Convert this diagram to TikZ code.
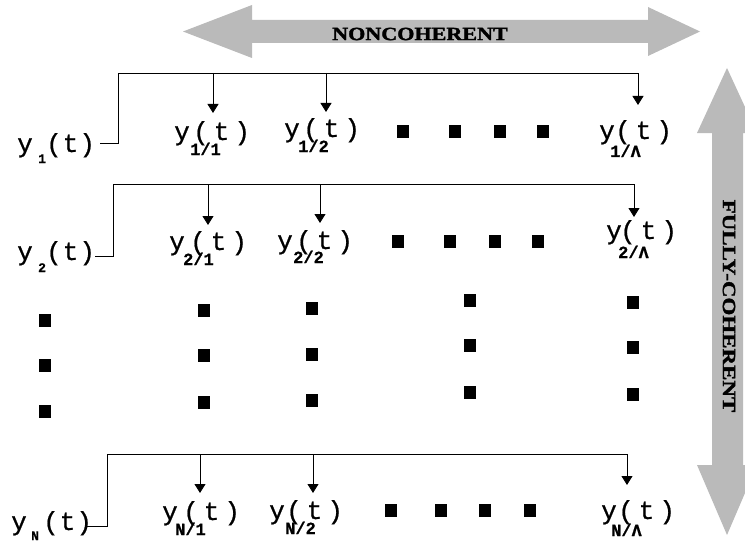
\documentclass[tikz,border=0pt]{standalone}
\usepackage{fontspec}
\newfontfamily\sigfont[FakeBold=0.8]{Liberation Mono}
\newfontfamily\bandfont[FakeBold=1.5]{Liberation Serif}
\usetikzlibrary{arrows.meta}

% (t) with widened letter pitch
\newcommand{\tpar}[1]{(\hspace{#1}t\hspace{#1})}
% \sig{sub}{sub x}{paren x}{drop}{paren spacing}{sub size}
\newcommand{\sig}[6]{\rlap{y}\rlap{\hspace{#2}\raisebox{-#4}{\fontsize{#6}{#6}\selectfont\bfseries #1}}\hspace{#3}\tpar{#5}}

\begin{document}
\begin{tikzpicture}[x=1pt,y=-1pt,
  wire/.style={line width=0.9pt},
  feed/.style={wire,-{Triangle[width=11pt,length=9pt]}},
  dot/.style={fill=black,minimum width=12pt,minimum height=13pt,inner sep=0pt},
  sig/.style={inner sep=0pt,anchor=base west,font=\sigfont\fontsize{26}{26}\selectfont},
  band/.style={fill=black!27,draw=none},
  bandtext/.style={inner sep=0pt,font=\bandfont\bfseries\fontsize{17}{17}\selectfont}]
\useasboundingbox (0,0) rectangle (745,543);
\clip (0,0) rectangle (745,543);

% double-headed bands
\fill[band] (183,31.5) -- (252,5) -- (252,20) -- (648,20) -- (648,7) -- (700,31.5)
  -- (648,56) -- (648,43) -- (252,43) -- (252,58) -- cycle;
\fill[band] (727,68) -- (757,133) -- (743,133) -- (743,465) -- (757,465) -- (727,535)
  -- (697,465) -- (712,465) -- (712,133) -- (697,133) -- cycle;
\node[bandtext] (nc) at (420,34) {\scalebox{1.3}[1.1]{NONCOHERENT}};
\node[bandtext,rotate=-90] (fc) at (729,306) {\scalebox{1.35}[1.1]{FULLY-COHERENT}};

% signals
\node[sig] (y1) at (17,152) {\sig{1}{21pt}{29pt}{11pt}{1pt}{13}};
\node[sig] (y11) at (174,140) {\sig{1/1}{16pt}{19pt}{15pt}{5pt}{17}};
\node[sig] (y12) at (284,137) {\sig{1/2}{14pt}{19pt}{15pt}{5pt}{17}};
\node[sig] (y1L) at (599,139) {\sig{1/\symbol{"039B}}{11pt}{16pt}{18pt}{5pt}{17}};

\node[sig] (y2) at (17,260) {\sig{2}{21pt}{29pt}{12pt}{1pt}{13}};
\node[sig] (y21) at (169,250) {\sig{2/1}{14pt}{21pt}{15pt}{5pt}{17}};
\node[sig] (y22) at (277,249) {\sig{2/2}{16pt}{19pt}{14pt}{5pt}{17}};
\node[sig] (y2L) at (606,239) {\sig{2/\symbol{"039B}}{12pt}{14pt}{19pt}{5pt}{17}};

\node[sig] (yN) at (11,530) {\sig{N}{20pt}{32pt}{10pt}{1pt}{13}};
\node[sig] (yN1) at (162,520) {\sig{N/1}{13pt}{21pt}{15pt}{5pt}{17}};
\node[sig] (yN2) at (269,519) {\sig{N/2}{16pt}{17pt}{15pt}{5pt}{17}};
\node[sig] (yNL) at (601,519) {\sig{N/\symbol{"039B}}{10pt}{17pt}{17pt}{5pt}{17}};

% row 1 distribution
\coordinate (a1) at (100,143);
\coordinate (b1) at (118,73);
\coordinate (c11) at (213,73);  \coordinate (t11) at (213,113);
\coordinate (c12) at (326,73);  \coordinate (t12) at (326,112);
\coordinate (t1L) at (638,105);
\draw[feed] (a1) -| (b1) -| (t1L);
\draw[feed] (c11) -- (t11);
\draw[feed] (c12) -- (t12);

% row 2 distribution
\coordinate (a2) at (95,256);
\coordinate (b2) at (113,184);
\coordinate (c21) at (208,184);  \coordinate (t21) at (208,225);
\coordinate (c22) at (320,184);  \coordinate (t22) at (320,223);
\coordinate (t2L) at (634,217);
\draw[feed] (a2) -| (b2) -| (t2L);
\draw[feed] (c21) -- (t21);
\draw[feed] (c22) -- (t22);

% row N distribution
\coordinate (aN) at (85,526);
\coordinate (bN) at (107,454);
\coordinate (cN1) at (200,454);  \coordinate (tN1) at (200,493);
\coordinate (cN2) at (313,454);  \coordinate (tN2) at (313,493);
\coordinate (tNL) at (627,485);
\draw[feed] (aN) -| (bN) -| (tNL);
\draw[feed] (cN1) -- (tN1);
\draw[feed] (cN2) -- (tN2);

% horizontal ellipses
\foreach \x/\n in {403/1,455/2,500/3,543/4} \node[dot] (h1\n) at (\x,131) {};
\foreach \x/\n in {398/1,450/2,495/3,538/4} \node[dot] (h2\n) at (\x,241) {};
\foreach \x/\n in {391/1,441/2,485/3,530/4} \node[dot] (hN\n) at (\x,510) {};

% vertical ellipses
\foreach \y/\n in {320/1,365/2,411/3} \node[dot] (v0\n) at (45,\y) {};
\foreach \y/\n in {310/1,355/2,402/3} \node[dot] (v1\n) at (204,\y) {};
\foreach \y/\n in {308/1,354/2,400/3} \node[dot] (v2\n) at (312,\y) {};
\foreach \y/\n in {300/1,345/2,392/3} \node[dot] (v3\n) at (470,\y) {};
\foreach \y/\n in {302/1,347/2,394/3} \node[dot] (v4\n) at (633,\y) {};
\end{tikzpicture}
\end{document}
